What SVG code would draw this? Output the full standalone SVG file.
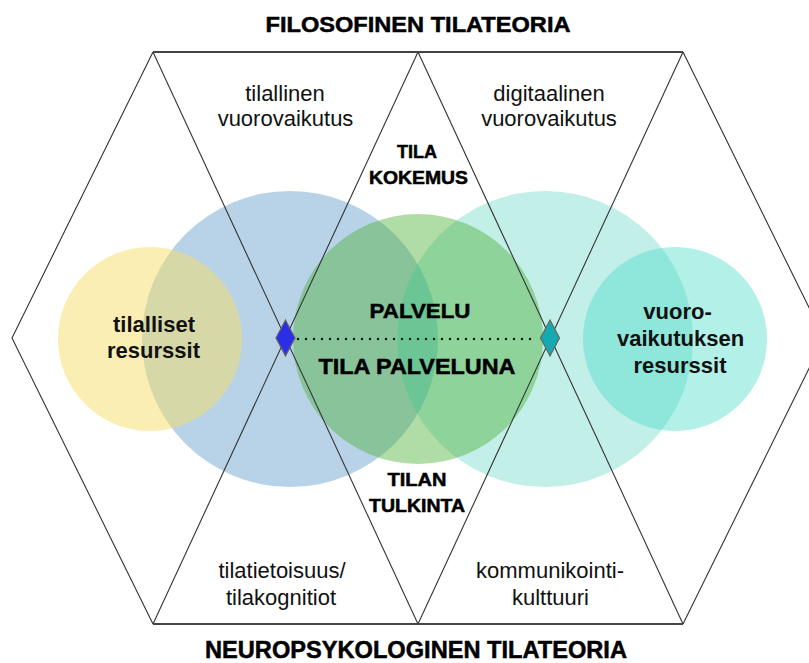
<svg xmlns="http://www.w3.org/2000/svg" width="809" height="663" viewBox="0 0 809 663">
<style>
.reg{font-family:"Liberation Sans",Arial,sans-serif;font-size:22px;fill:#111;text-anchor:middle}
.bld{font-family:"Liberation Sans",Arial,sans-serif;font-weight:bold;font-size:22px;fill:#111;text-anchor:middle}
.cap{font-family:"Liberation Sans",Arial,sans-serif;font-weight:bold;fill:#000;stroke:#000;stroke-width:0.5;text-anchor:middle}
.ln{fill:none;stroke:#333;stroke-width:1.1}
.edge{fill:none;stroke:#444;stroke-width:2.2}
</style>
<defs>
<clipPath id="blueClip"><circle cx="290" cy="339" r="148"/></clipPath>
</defs>
<rect width="809" height="663" fill="#fff"/>

<g id="circles">
<g id="blue-circle"><circle cx="290" cy="339" r="148" fill="#b8d3e8"/></g>
<g id="teal-circle"><circle cx="545" cy="339" r="148" fill="#c3efe9"/>
<circle cx="545" cy="339" r="148" fill="#86d6e0" clip-path="url(#blueClip)"/></g>
<g id="green-circle"><circle cx="418" cy="339" r="125" fill="#4baf35" fill-opacity="0.44"/></g>
<g id="yellow-circle"><circle cx="150" cy="339" r="92" fill="#f5dd67" fill-opacity="0.5"/></g>
<g id="teal-small-circle"><circle cx="675" cy="339" r="92" fill="#41d9c3" fill-opacity="0.4"/></g>
</g>

<g id="connectors">
<path class="ln" d="M153,52 L12,338 L153,624"/>
<path class="ln" d="M153,52 L418,624"/>
<path class="ln" d="M418,52 L153,624"/>
<path class="ln" d="M418,52 L683,624"/>
<path class="ln" d="M683,52 L418,624"/>
<path class="ln" d="M683,52 L824,338 L683,624"/>
<path class="edge" d="M153,52 H683"/>
<path class="edge" d="M153,624 H683"/>
<path d="M298,339 H538" fill="none" stroke="#111" stroke-width="2.4" stroke-linecap="round" stroke-dasharray="0 8"/>
</g>

<g id="diamond-left"><polygon points="285.5,320 295,338 285.5,356 276,338" fill="#2a2ee6" stroke="#666" stroke-width="1.2"/></g>
<g id="diamond-right"><polygon points="550,320 559.5,338 550,356 540.5,338" fill="#15a9b2" stroke="#666" stroke-width="1.2"/></g>

<g id="title-top"><text class="cap" x="418" y="32" font-size="22" textLength="305" lengthAdjust="spacingAndGlyphs">FILOSOFINEN TILATEORIA</text></g>
<g id="title-bottom"><text class="cap" x="416" y="658" font-size="23.5" textLength="422" lengthAdjust="spacingAndGlyphs">NEUROPSYKOLOGINEN TILATEORIA</text></g>

<g id="tilallinen-vuorovaikutus">
<text class="reg" x="285" y="101">tilallinen</text>
<text class="reg" x="285.5" y="126">vuorovaikutus</text>
</g>
<g id="digitaalinen-vuorovaikutus">
<text class="reg" x="549" y="101">digitaalinen</text>
<text class="reg" x="549" y="126">vuorovaikutus</text>
</g>
<g id="tilatietoisuus">
<text class="reg" x="282" y="578">tilatietoisuus/</text>
<text class="reg" x="281" y="605">tilakognitiot</text>
</g>
<g id="kommunikointikulttuuri">
<text class="reg" x="550" y="578">kommunikointi-</text>
<text class="reg" x="550.5" y="605">kulttuuri</text>
</g>

<g id="tila-kokemus">
<text class="cap" x="417" y="158" font-size="18" textLength="40" lengthAdjust="spacingAndGlyphs">TILA</text>
<text class="cap" x="418.5" y="184" font-size="18" textLength="99" lengthAdjust="spacingAndGlyphs">KOKEMUS</text>
</g>
<g id="tilan-tulkinta">
<text class="cap" x="417" y="486" font-size="18" textLength="59" lengthAdjust="spacingAndGlyphs">TILAN</text>
<text class="cap" x="417" y="512" font-size="18" textLength="96" lengthAdjust="spacingAndGlyphs">TULKINTA</text>
</g>
<g id="palvelu">
<text class="cap" x="420" y="318" font-size="20.5" textLength="101" lengthAdjust="spacingAndGlyphs">PALVELU</text>
<text class="cap" x="417" y="374" font-size="21.5" textLength="197" lengthAdjust="spacingAndGlyphs">TILA PALVELUNA</text>
</g>

<g id="tilalliset-resurssit">
<text class="bld" x="154" y="332">tilalliset</text>
<text class="bld" x="153.5" y="358">resurssit</text>
</g>
<g id="vuorovaikutuksen-resurssit">
<text class="bld" x="677.5" y="319">vuoro-</text>
<text class="bld" x="680.5" y="346">vaikutuksen</text>
<text class="bld" x="680" y="373">resurssit</text>
</g>
</svg>
